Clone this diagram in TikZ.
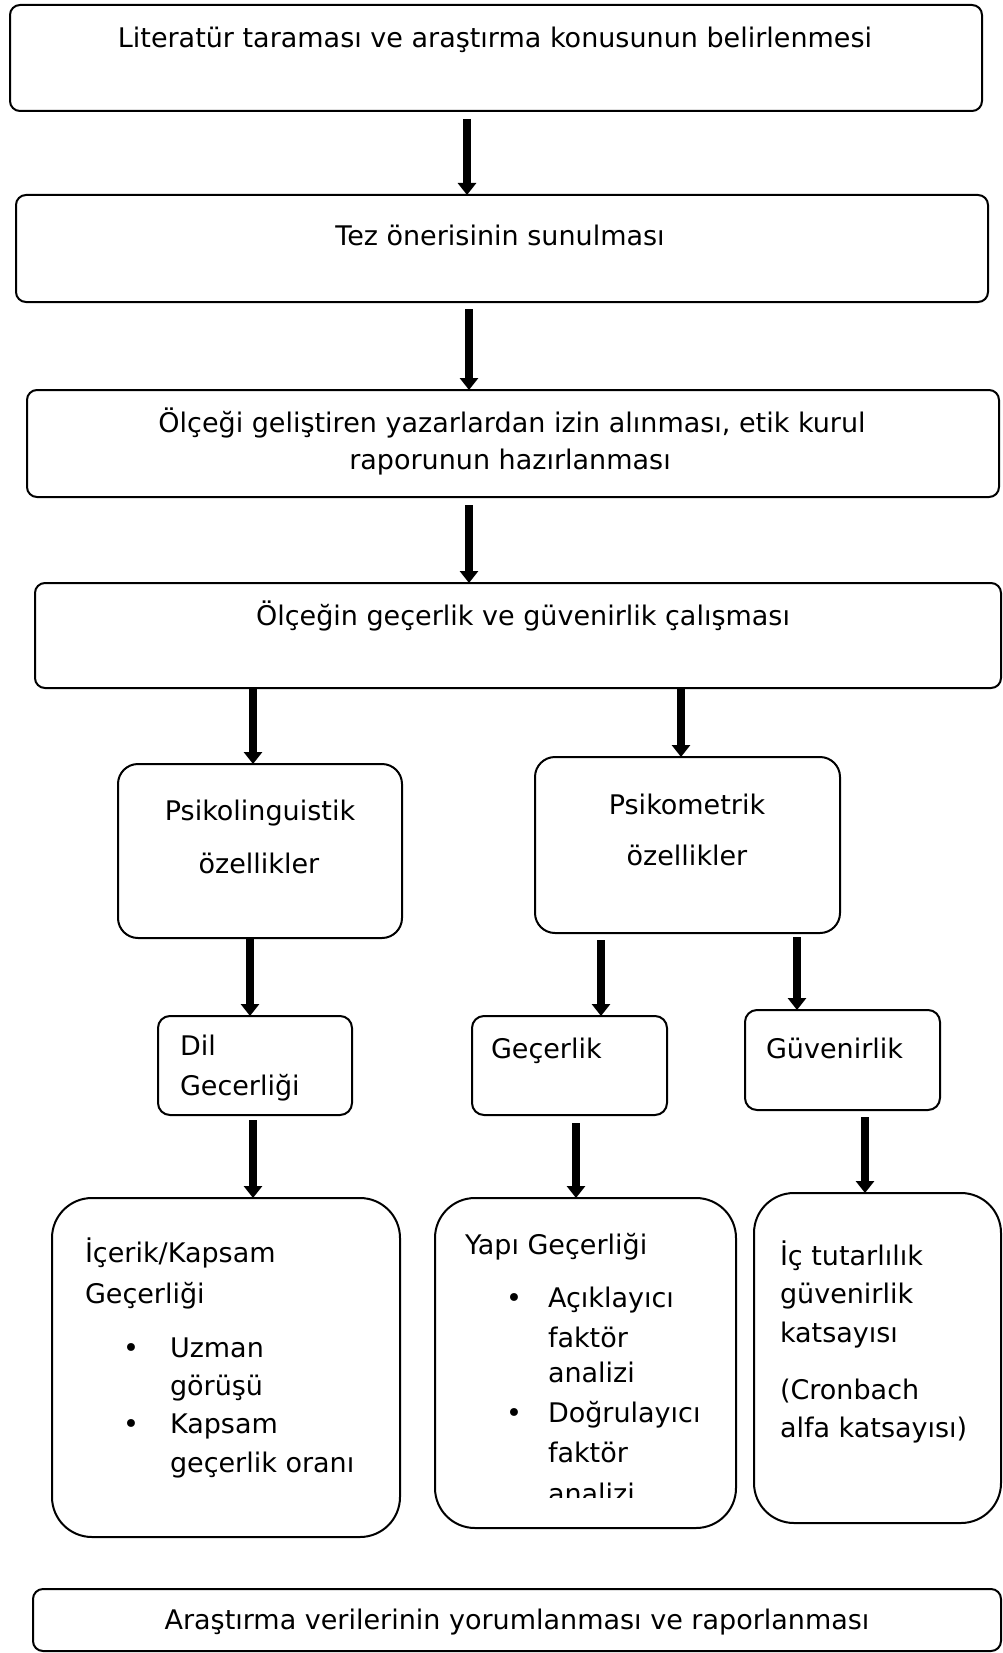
\documentclass[tikz,border=0pt]{standalone}
\usepackage{fontspec}
\setmainfont{DejaVu Sans}
\usetikzlibrary{arrows.meta}
\begin{document}
\begin{tikzpicture}[x=1pt,y=-1pt,
  box/.style={draw=black,line width=2pt,inner sep=0pt,outer sep=0pt},
  r10/.style={box,rounded corners=10pt},
  r20/.style={box,rounded corners=20pt},
  r12/.style={box,rounded corners=12pt},
  r40/.style={box,rounded corners=40pt},
  txt/.style={inner sep=0pt,outer sep=0pt,font=\fontsize{27}{33}\selectfont},
  ctxt/.style={txt,anchor=base},
  ltxt/.style={txt,anchor=base west},
  arr/.style={line width=8pt,-{Triangle[width=18pt,length=12pt]}}]
\useasboundingbox (0,0) rectangle (1003,1653);
\fill[white] (0,0) rectangle (1003,1653);

% boxes
\node[r10,minimum width=972pt,minimum height=106pt] (b1) at (496,58) {};
\node[r10,minimum width=972pt,minimum height=107pt] (b2) at (502,248.5) {};
\node[r10,minimum width=972pt,minimum height=107pt] (b3) at (513,443.5) {};
\node[r10,minimum width=966pt,minimum height=105pt] (b4) at (518,635.5) {};
\node[r20,minimum width=284pt,minimum height=174pt] (b5) at (260,851) {};
\node[r20,minimum width=305pt,minimum height=176pt] (b6) at (687.5,845) {};
\node[r12,minimum width=194pt,minimum height=99pt] (b7) at (255,1065.5) {};
\node[r12,minimum width=195pt,minimum height=99pt] (b8) at (569.5,1065.5) {};
\node[r12,minimum width=195pt,minimum height=100pt] (b9) at (842.5,1060) {};
\node[r40,minimum width=348pt,minimum height=339pt] (b10) at (226,1367.5) {};
\node[r40,minimum width=301pt,minimum height=330pt] (b11) at (585.5,1363) {};
\node[r40,minimum width=247pt,minimum height=330pt] (b12) at (877.5,1358) {};
\node[r10,minimum width=968pt,minimum height=62pt] (b13) at (517,1620) {};

% texts
\node[ctxt] (t1) at (495,48) {Literatür taraması ve araştırma konusunun belirlenmesi};
\node[ctxt] (t2) at (500,246) {Tez önerisinin sunulması};
\node[ctxt] (t3a) at (512,432) {Ölçeği geliştiren yazarlardan izin alınması, etik kurul};
\node[ctxt] (t3b) at (510,469) {raporunun hazırlanması};
\node[ctxt] (t4) at (523,625) {Ölçeğin geçerlik ve güvenirlik çalışması};
\node[ctxt] (t5a) at (260,820) {Psikolinguistik};
\node[ctxt] (t5b) at (259,873) {özellikler};
\node[ctxt] (t6a) at (687,814) {Psikometrik};
\node[ctxt] (t6b) at (687,865) {özellikler};
\node[ltxt] (t7a) at (180,1055) {Dil};
\node[ltxt] (t7b) at (180,1095) {Gecerliği};
\node[ltxt] (t8) at (491,1058) {Geçerlik};
\node[ltxt] (t9) at (766,1058) {Güvenirlik};

\node[ltxt] (t10a) at (85,1262) {İçerik/Kapsam};
\node[ltxt] (t10b) at (85,1303) {Geçerliği};
\node[ctxt] (u1) at (131,1357) {•};
\node[ltxt] (t10c) at (170,1357) {Uzman};
\node[ltxt] (t10d) at (170,1395) {görüşü};
\node[ctxt] (u2) at (131,1433) {•};
\node[ltxt] (t10e) at (170,1433) {Kapsam};
\node[ltxt] (t10f) at (170,1472) {geçerlik oranı};

\node[ltxt] (t11a) at (465,1254) {Yapı Geçerliği};
\node[ctxt] (u3) at (514,1307) {•};
\node[ltxt] (t11b) at (548,1307) {Açıklayıcı};
\node[ltxt] (t11c) at (548,1347) {faktör};
\node[ltxt] (t11d) at (548,1382) {analizi};
\node[ctxt] (u4) at (514,1422) {•};
\node[ltxt] (t11e) at (548,1422) {Doğrulayıcı};
\node[ltxt] (t11f) at (548,1462) {faktör};
\begin{scope}
\clip (440,1480) rectangle (730,1497);
\node[ltxt] (t11g) at (548,1503) {analizi};
\end{scope}

\node[ltxt] (t12a) at (780,1265) {İç tutarlılık};
\node[ltxt] (t12b) at (780,1303) {güvenirlik};
\node[ltxt] (t12c) at (780,1342) {katsayısı};
\node[ltxt] (t12d) at (780,1399) {(Cronbach};
\node[ltxt] (t12e) at (780,1437) {alfa katsayısı)};

\node[ctxt] (t13) at (517,1629) {Araştırma verilerinin yorumlanması ve raporlanması};

% arrow x positions
\coordinate (x1) at (467,0);
\coordinate (x2) at (469,0);
\coordinate (x4) at (253,0);
\coordinate (x5) at (681,0);
\coordinate (x6) at (250,0);
\coordinate (x7) at (601,0);
\coordinate (x8) at (797,0);
\coordinate (x10) at (576,0);
\coordinate (x11) at (865,0);

\draw[arr,shorten <=8pt] (b1.south -| x1) -- (b2.north -| x1);
\draw[arr,shorten <=7pt] (b2.south -| x2) -- (b3.north -| x2);
\draw[arr,shorten <=8pt] (b3.south -| x2) -- (b4.north -| x2);
\draw[arr] (b4.south -| x4) -- (b5.north -| x4);
\draw[arr] (b4.south -| x5) -- (b6.north -| x5);
\draw[arr] (b5.south -| x6) -- (b7.north -| x6);
\draw[arr,shorten <=7pt] (b6.south -| x7) -- (b8.north -| x7);
\draw[arr,shorten <=4pt] (b6.south -| x8) -- (b9.north -| x8);
\draw[arr,shorten <=5pt] (b7.south -| x4) -- (b10.north -| x4);
\draw[arr,shorten <=8pt] (b8.south -| x10) -- (b11.north -| x10);
\draw[arr,shorten <=7pt] (b9.south -| x11) -- (b12.north -| x11);
\end{tikzpicture}
\end{document}
